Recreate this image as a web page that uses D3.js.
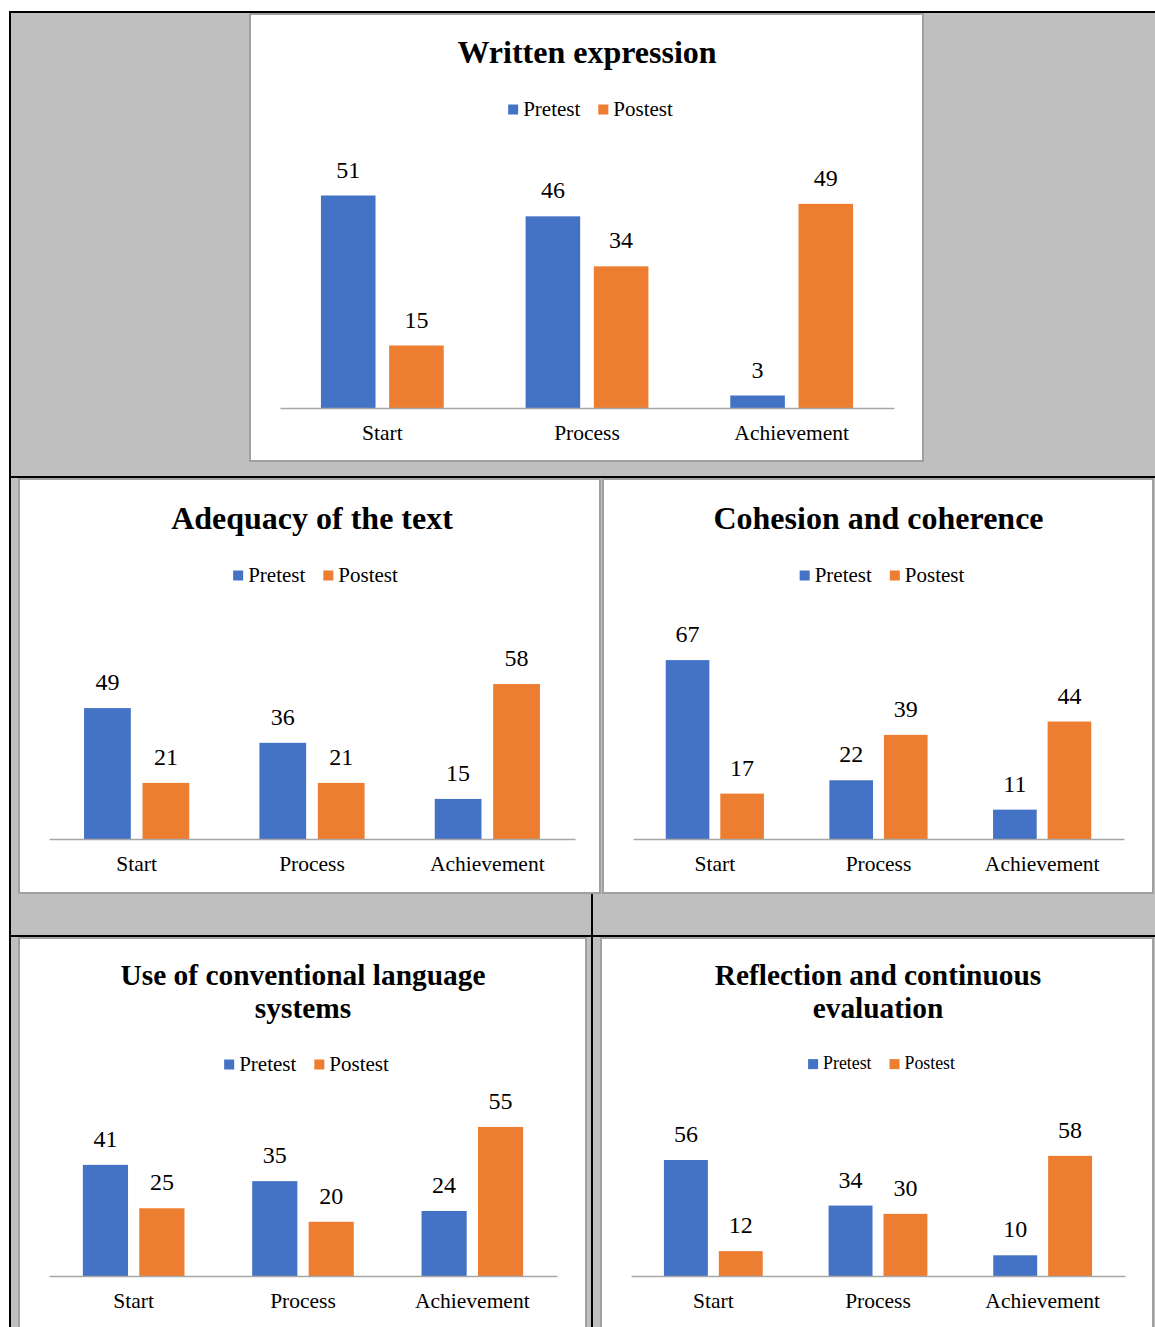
<!DOCTYPE html>
<html>
<head>
<meta charset="utf-8">
<script src="https://cdn.jsdelivr.net/npm/d3@7"></script>
<style>
  html, body { margin: 0; padding: 0; background: #ffffff; }
  svg { display: block; }
  text { font-family: "Liberation Serif", "Times New Roman", serif; fill: #000; }
</style>
</head>
<body>
<svg id="chart" width="1155" height="1327"></svg>
<script>
// ---- data ----
const categories = ["Start", "Process", "Achievement"];
const seriesNames = ["Pretest", "Postest"];

const writtenPretest = [51, 46, 3];
const writtenPostest = [15, 34, 49];

const adequacyPretest = [49, 36, 15];
const adequacyPostest = [21, 21, 58];

const cohesionPretest = [67, 22, 11];
const cohesionPostest = [17, 39, 44];

const conventionPretest = [41, 35, 24];
const conventionPostest = [25, 20, 55];

const reflectionPretest = [56, 34, 10];
const reflectionPostest = [12, 30, 58];

const chartTitles = [
  ["Written expression"],
  ["Adequacy of the text"],
  ["Cohesion and coherence"],
  ["Use of conventional language", "systems"],
  ["Reflection and continuous", "evaluation"]
];

const seriesColors = ["#4472C4", "#ED7D31"];

// ---- layout of the five panels ----
const panels = [
  { pre: writtenPretest, post: writtenPostest, title: chartTitles[0],
    box: [250, 14, 673, 447], axis: [280, 894, 408], plotH: 250, yMax: 60,
    titleY: [63], titleSize: 32, legendY: 116, legendSize: 21 },
  { pre: adequacyPretest, post: adequacyPostest, title: chartTitles[1],
    box: [19, 479, 581, 414], axis: [49, 575, 839], plotH: 187, yMax: 70,
    titleY: [529], titleSize: 32, legendY: 582, legendSize: 21 },
  { pre: cohesionPretest, post: cohesionPostest, title: chartTitles[2],
    box: [603, 479, 550, 414], axis: [633, 1124, 839], plotH: 213.6, yMax: 80,
    titleY: [529], titleSize: 32, legendY: 582, legendSize: 21 },
  { pre: conventionPretest, post: conventionPostest, title: chartTitles[3],
    box: [19, 938, 567, 400], axis: [49, 557, 1276], plotH: 162.6, yMax: 60,
    titleY: [985, 1018], titleSize: 29.4, legendY: 1071, legendSize: 21 },
  { pre: reflectionPretest, post: reflectionPostest, title: chartTitles[4],
    box: [601, 938, 552, 400], axis: [631, 1125, 1276], plotH: 145, yMax: 70,
    titleY: [985, 1018], titleSize: 29.4, legendY: 1069, legendSize: 17.8 }
];

const svg = d3.select("#chart");

// table background
svg.append("rect").attr("x", 10).attr("y", 12).attr("width", 1145).attr("height", 1315)
  .attr("fill", "#BFBFBF");
svg.append("line").attr("x1", 592).attr("x2", 592).attr("y1", 477).attr("y2", 1327)
  .attr("stroke", "#000").attr("stroke-width", 2);

panels.forEach(p => {
  const g = svg.append("g");
  const [bx, by, bw, bh] = p.box;
  const [ax0, ax1, ay] = p.axis;

  // chart area
  g.append("rect").attr("x", bx).attr("y", by).attr("width", bw).attr("height", bh)
    .attr("fill", "#fff").attr("stroke", "#A0A0A0").attr("stroke-width", 2);

  const x0 = d3.scaleBand().domain(categories).range([ax0, ax1]).padding(0);
  const x1 = d3.scaleBand().domain(seriesNames).range([0, x0.bandwidth()])
    .paddingInner(0.2).paddingOuter(0.6);
  const y = d3.scaleLinear().domain([0, p.yMax]).range([ay, ay - p.plotH]);

  const cx = (ax0 + ax1) / 2;

  // title
  const title = g.append("text").attr("text-anchor", "middle")
    .attr("font-weight", "bold").attr("font-size", p.titleSize);
  p.title.forEach((line, i) => {
    title.append("tspan").attr("x", cx).attr("y", p.titleY[i]).text(line);
  });

  // legend
  const legend = g.append("g");
  let lx = 0;
  seriesNames.forEach((name, i) => {
    legend.append("rect").attr("x", lx).attr("y", -p.legendSize * 0.5 - 1)
      .attr("width", 10).attr("height", 10).attr("fill", seriesColors[i]);
    const t = legend.append("text").attr("x", lx + 15).attr("y", 0)
      .attr("font-size", p.legendSize).text(name);
    lx += 15 + t.node().getComputedTextLength() + 18;
  });
  const lw = lx - 18;
  legend.attr("transform", `translate(${cx + 3.5 - lw / 2},${p.legendY})`);

  // bars
  const rows = categories.map((c, i) => ({ cat: c, vals: [p.pre[i], p.post[i]] }));
  const groups = g.selectAll(".grp").data(rows).join("g")
    .attr("transform", d => `translate(${x0(d.cat)},0)`);

  groups.selectAll("rect").data(d => d.vals.map((v, k) => ({ s: seriesNames[k], v, k })))
    .join("rect")
    .attr("x", d => x1(d.s))
    .attr("width", x1.bandwidth())
    .attr("y", d => y(d.v))
    .attr("height", d => y(0) - y(d.v))
    .attr("fill", d => seriesColors[d.k]);

  groups.selectAll("text.val").data(d => d.vals.map((v, k) => ({ s: seriesNames[k], v, k })))
    .join("text").attr("class", "val")
    .attr("x", d => x1(d.s) + x1.bandwidth() / 2)
    .attr("y", d => y(d.v) - 18)
    .attr("text-anchor", "middle")
    .attr("font-size", 24)
    .text(d => d.v);

  // category axis
  const axis = g.append("g").attr("transform", `translate(0,${ay})`)
    .call(d3.axisBottom(x0).tickSize(0).tickSizeOuter(0).tickPadding(17));
  axis.select(".domain").attr("stroke", "#A6A6A6").attr("stroke-width", 1.5);
  axis.selectAll(".tick text")
    .attr("font-family", '"Liberation Serif", "Times New Roman", serif')
    .attr("font-size", 21.5).attr("fill", "#000");
});

// black table rules on top
const rules = svg.append("g").attr("stroke", "#000").attr("stroke-width", 2);
rules.append("line").attr("x1", 9).attr("x2", 1155).attr("y1", 12).attr("y2", 12);
rules.append("line").attr("x1", 10).attr("x2", 10).attr("y1", 11).attr("y2", 1327);
rules.append("line").attr("x1", 9).attr("x2", 1155).attr("y1", 477).attr("y2", 477);
rules.append("line").attr("x1", 9).attr("x2", 1155).attr("y1", 936).attr("y2", 936);
</script>
</body>
</html>
